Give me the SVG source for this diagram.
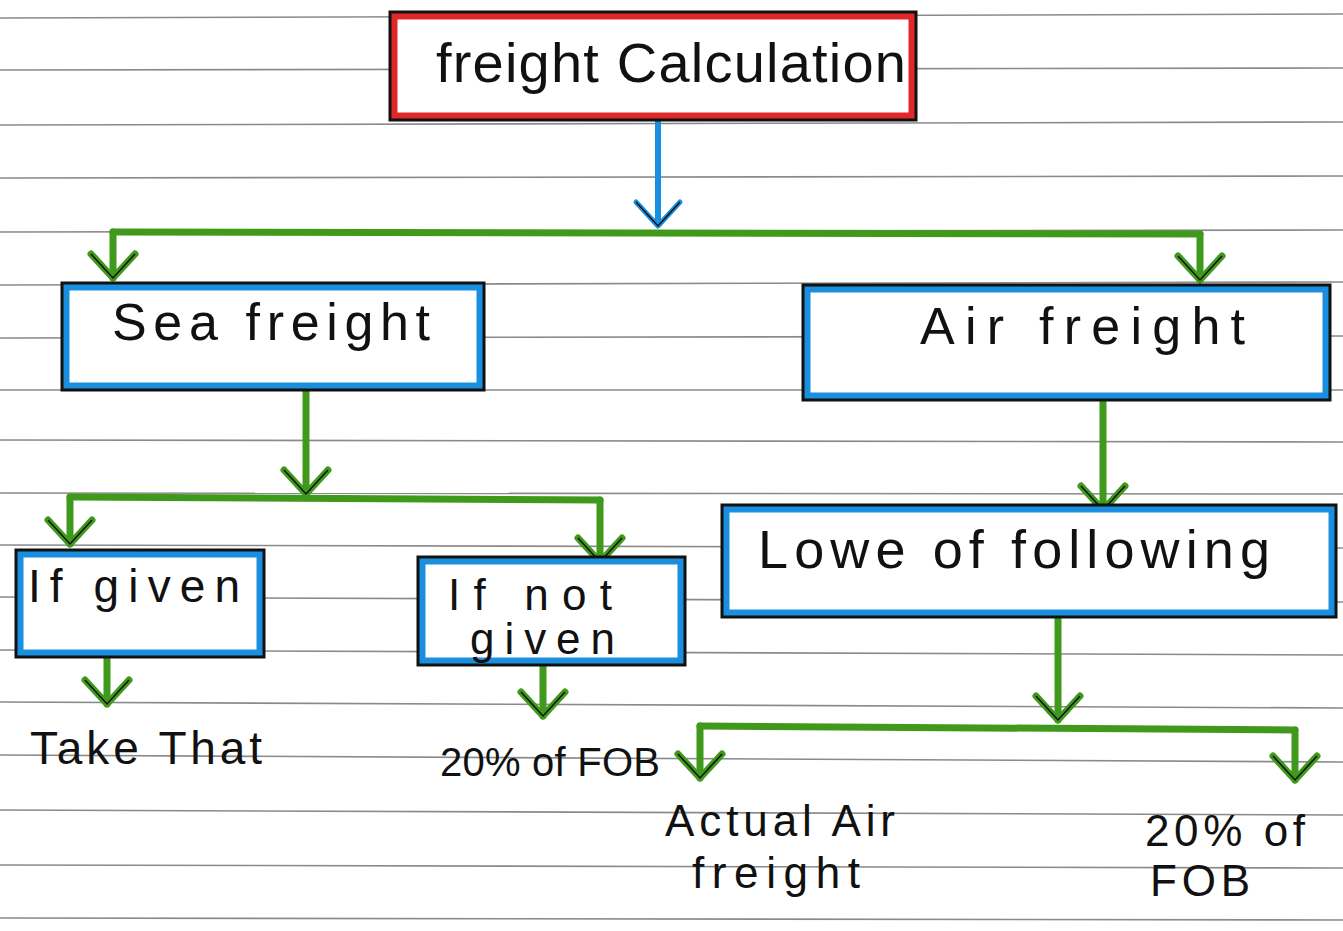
<svg xmlns="http://www.w3.org/2000/svg" width="1343" height="931" viewBox="0 0 1343 931">
<style>
.rule{stroke:#8a8a8a;stroke-width:1.6;fill:none}
.boxB{fill:#fff;stroke:#1a8fe0;stroke-width:7}
.boxO{fill:none;stroke:#111;stroke-width:3}
.boxR{fill:#fff;stroke:#e02828;stroke-width:7}
.g{stroke:#3f9a1c;stroke-width:7;fill:none;stroke-linecap:round}
.t{font-family:"Liberation Sans",Arial,sans-serif;fill:#111}
</style>
<defs>
<marker id="ag" markerWidth="10" markerHeight="10" refX="0" refY="0" orient="0" markerUnits="userSpaceOnUse" viewBox="0 0 10 10" overflow="visible">
<path d="M-22,-24 L0,0 L22,-24" stroke="#3f9a1c" stroke-width="7" fill="none" stroke-linejoin="round" stroke-linecap="round"/>
<path d="M-22,-24 L0,0 L22,-24" stroke="#111" stroke-width="1.5" fill="none"/>
</marker>
<marker id="ab" markerWidth="10" markerHeight="10" refX="0" refY="0" orient="0" markerUnits="userSpaceOnUse" viewBox="0 0 10 10" overflow="visible">
<path d="M-22,-24 L0,0 L22,-24" stroke="#1a8fe0" stroke-width="5" fill="none" stroke-linejoin="round" stroke-linecap="round"/>
<path d="M-22,-24 L0,0 L22,-24" stroke="#111" stroke-width="1.5" fill="none"/>
</marker>
</defs>
<rect width="1343" height="931" fill="#fff"/>
<g id="paper">
<path class="rule" d="M0,18 L1343,14"/>
<path class="rule" d="M0,70 L1343,68"/>
<path class="rule" d="M0,125 L1343,122"/>
<path class="rule" d="M0,178 L1343,176"/>
<path class="rule" d="M0,232 L1343,230"/>
<path class="rule" d="M0,285 L1343,282"/>
<path class="rule" d="M0,338 L1343,336"/>
<path class="rule" d="M0,390 L1343,390"/>
<path class="rule" d="M0,440 L1343,442"/>
<path class="rule" d="M0,493 L1343,494"/>
<path class="rule" d="M0,545 L1343,548"/>
<path class="rule" d="M0,597 L1343,602"/>
<path class="rule" d="M0,650 L1343,655"/>
<path class="rule" d="M0,702 L1343,708"/>
<path class="rule" d="M0,755 L1343,762"/>
<path class="rule" d="M0,810 L1343,815"/>
<path class="rule" d="M0,865 L1343,868"/>
<path class="rule" d="M0,918 L1343,920"/>
</g>
<g id="connectors">
<path d="M658,120 L658,226" stroke="#1a8fe0" stroke-width="6" fill="none" marker-end="url(#ab)"/>
<path class="g" d="M113,232 L1200,234"/>
<path class="g" d="M113,232 L113,278" marker-end="url(#ag)"/>
<path class="g" d="M1200,234 L1200,280" marker-end="url(#ag)"/>
<path class="g" d="M306,390 L306,494" marker-end="url(#ag)"/>
<path class="g" d="M70,497 L600,500"/>
<path class="g" d="M70,497 L70,544" marker-end="url(#ag)"/>
<path class="g" d="M600,500 L600,562" marker-end="url(#ag)"/>
<path class="g" d="M107,657 L107,704" marker-end="url(#ag)"/>
<path class="g" d="M543,665 L543,716" marker-end="url(#ag)"/>
<path class="g" d="M1103,400 L1103,510" marker-end="url(#ag)"/>
<path class="g" d="M1058,617 L1058,720" marker-end="url(#ag)"/>
<path class="g" d="M700,726 L1295,730"/>
<path class="g" d="M700,726 L700,778" marker-end="url(#ag)"/>
<path class="g" d="M1295,730 L1295,780" marker-end="url(#ag)"/>
</g>
<g id="node-freight-calculation">
<rect class="boxR" x="394" y="16" width="518" height="100"/>
<rect class="boxO" x="390" y="12" width="526" height="108"/>
<text class="t" x="436" y="82" font-size="56" textLength="470" lengthAdjust="spacing">freight Calculation</text>
</g>
<g id="node-sea-freight">
<rect class="boxB" x="66" y="287" width="414" height="99"/>
<rect class="boxO" x="62" y="283" width="422" height="107"/>
<text class="t" x="112" y="340" font-size="52" textLength="318" lengthAdjust="spacing">Sea freight</text>
</g>
<g id="node-air-freight">
<rect class="boxB" x="807" y="289" width="519" height="107"/>
<rect class="boxO" x="803" y="285" width="527" height="115"/>
<text class="t" x="920" y="344" font-size="52" textLength="325" lengthAdjust="spacing">Air freight</text>
</g>
<g id="node-lowe-of-following">
<rect class="boxB" x="726" y="509" width="606" height="104"/>
<rect class="boxO" x="722" y="505" width="614" height="112"/>
<text class="t" x="758" y="568" font-size="54" textLength="512" lengthAdjust="spacing">Lowe of following</text>
</g>
<g id="node-if-given">
<rect class="boxB" x="20" y="554" width="240" height="99"/>
<rect class="boxO" x="16" y="550" width="248" height="107"/>
<text class="t" x="28" y="602" font-size="46" textLength="212" lengthAdjust="spacing">If given</text>
</g>
<g id="node-if-not-given">
<rect class="boxB" x="422" y="561" width="259" height="100"/>
<rect class="boxO" x="418" y="557" width="267" height="108"/>
<text class="t" x="448" y="610" font-size="44" textLength="164" lengthAdjust="spacing">If not</text>
<text class="t" x="470" y="654" font-size="44" textLength="145" lengthAdjust="spacing">given</text>
</g>
<g id="node-take-that">
<text class="t" x="30" y="764" font-size="46" textLength="232" lengthAdjust="spacing">Take That</text>
</g>
<g id="node-20-of-fob-sea">
<text class="t" x="440" y="776" font-size="40" textLength="220" lengthAdjust="spacing">20% of FOB</text>
</g>
<g id="node-actual-air-freight">
<text class="t" x="665" y="836" font-size="44" textLength="230" lengthAdjust="spacing">Actual Air</text>
<text class="t" x="692" y="888" font-size="44" textLength="168" lengthAdjust="spacing">freight</text>
</g>
<g id="node-20-of-fob-air">
<text class="t" x="1145" y="846" font-size="44" textLength="160" lengthAdjust="spacing">20% of</text>
<text class="t" x="1150" y="896" font-size="44" textLength="100" lengthAdjust="spacing">FOB</text>
</g>
</svg>
